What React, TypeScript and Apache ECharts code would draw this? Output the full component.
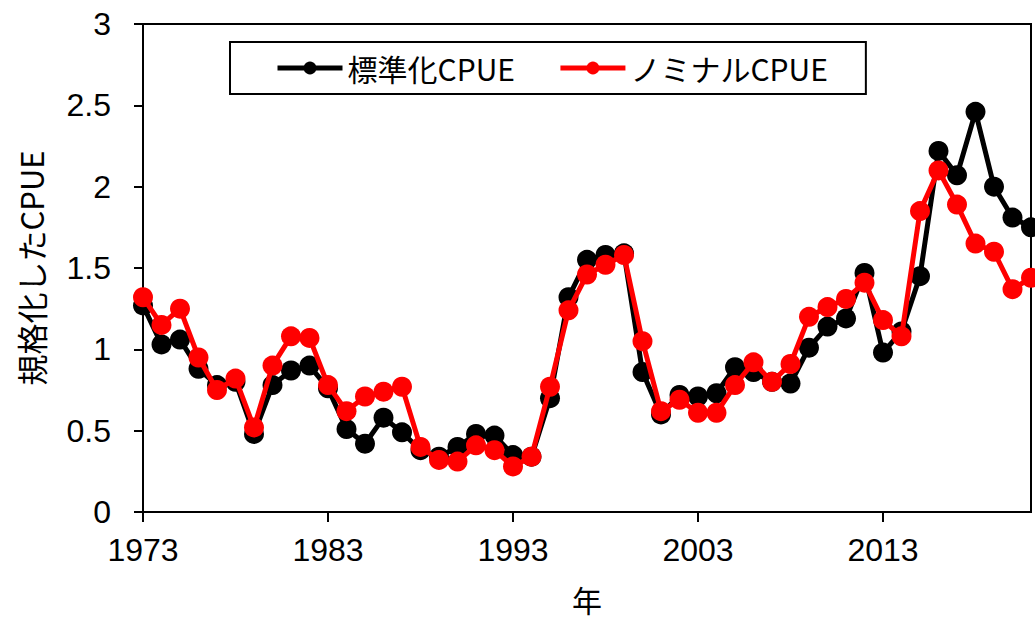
import React, { useEffect, useRef } from "react";
import * as echarts from "echarts";

const years: number[] = [
  1973, 1974, 1975, 1976, 1977, 1978, 1979, 1980, 1981, 1982,
  1983, 1984, 1985, 1986, 1987, 1988, 1989, 1990, 1991, 1992,
  1993, 1994, 1995, 1996, 1997, 1998, 1999, 2000, 2001, 2002,
  2003, 2004, 2005, 2006, 2007, 2008, 2009, 2010, 2011, 2012,
  2013, 2014, 2015, 2016, 2017, 2018, 2019, 2020, 2021,
];

const standardized: number[] = [
  1.27, 1.03, 1.06, 0.88, 0.78, 0.8, 0.48, 0.78, 0.87, 0.9,
  0.76, 0.51, 0.42, 0.58, 0.49, 0.38, 0.34, 0.4, 0.48, 0.47,
  0.35, 0.34, 0.7, 1.32, 1.55, 1.58, 1.59, 0.86, 0.6, 0.72,
  0.71, 0.73, 0.89, 0.86, 0.8, 0.79, 1.01, 1.14, 1.19, 1.47,
  0.98, 1.11, 1.45, 2.22, 2.07, 2.46, 2.0, 1.81, 1.75,
];

const nominal: number[] = [
  1.32, 1.15, 1.25, 0.95, 0.75, 0.82, 0.52, 0.9, 1.08, 1.07,
  0.78, 0.62, 0.71, 0.74, 0.77, 0.4, 0.32, 0.31, 0.41, 0.38,
  0.28, 0.34, 0.77, 1.24, 1.46, 1.52, 1.58, 1.05, 0.62, 0.69,
  0.61, 0.61, 0.78, 0.92, 0.8, 0.91, 1.2, 1.26, 1.31, 1.41,
  1.18, 1.08, 1.85, 2.1, 1.89, 1.65, 1.6, 1.37, 1.44,
];

const xTickYears: number[] = [1973, 1983, 1993, 2003, 2013];
const seriesNames: string[] = ["標準化CPUE", "ノミナルCPUE"];
const xAxisTitle = "年";
const yAxisTitle = "規格化したCPUE";

const LATIN = "'Liberation Sans', Arial, sans-serif";
const CJK = "'Noto Sans CJK JP', sans-serif";

export default function App() {
  const ref = useRef<HTMLDivElement | null>(null);

  useEffect(() => {
    document.body.style.margin = "0";
    if (!ref.current) return;
    const chart = echarts.init(ref.current, undefined, { renderer: "svg" });
    const mk = (vals: number[]) => years.map((y, i) => [y, vals[i]]);
    chart.setOption({
      animation: false,
      backgroundColor: "#ffffff",
      grid: {
        left: 143,
        right: 4,
        top: 24,
        bottom: 116,
        show: true,
        borderColor: "#000",
        borderWidth: 2,
        containLabel: false,
      },
      legend: {
        left: 230,
        top: 42,
        orient: "horizontal",
        padding: [11, 38, 11, 45],
        itemGap: 43,
        itemWidth: 65,
        itemHeight: 16,
        borderColor: "#000",
        borderWidth: 2,
        backgroundColor: "#fff",
        lineStyle: { width: 5 },
        textStyle: { fontFamily: CJK, fontSize: 30, color: "#000" },
        data: seriesNames,
      },
      xAxis: {
        type: "value",
        min: 1973,
        max: 2021,
        name: xAxisTitle,
        nameLocation: "middle",
        nameGap: 72,
        nameTextStyle: { fontFamily: CJK, fontSize: 30, color: "#000" },
        axisLine: { show: true, lineStyle: { color: "#000", width: 2 } },
        axisTick: {
          show: true,
          customValues: xTickYears,
          length: 10,
          lineStyle: { color: "#000", width: 2 },
        },
        axisLabel: {
          customValues: xTickYears,
          fontFamily: LATIN,
          fontSize: 32,
          color: "#000",
          margin: 22,
          formatter: (v: number) => String(v),
        },
        splitLine: { show: false },
      },
      yAxis: {
        type: "value",
        min: 0,
        max: 3,
        interval: 0.5,
        name: yAxisTitle,
        nameLocation: "middle",
        nameGap: 97,
        nameTextStyle: { fontFamily: CJK, fontSize: 31, color: "#000" },
        axisLine: { show: true, lineStyle: { color: "#000", width: 2 } },
        axisTick: { show: true, length: 9, lineStyle: { color: "#000", width: 2 } },
        axisLabel: {
          fontFamily: LATIN,
          fontSize: 32,
          color: "#000",
          margin: 32,
        },
        splitLine: { show: false },
      },
      series: [
        {
          name: seriesNames[0],
          type: "line",
          data: mk(standardized),
          symbol: "circle",
          symbolSize: 20,
          lineStyle: { color: "#000", width: 5 },
          itemStyle: { color: "#000" },
          z: 2,
        },
        {
          name: seriesNames[1],
          type: "line",
          data: mk(nominal),
          symbol: "circle",
          symbolSize: 20,
          lineStyle: { color: "#ff0000", width: 5 },
          itemStyle: { color: "#ff0000" },
          z: 3,
        },
      ],
    });
    return () => chart.dispose();
  }, []);

  return <div ref={ref} style={{ width: 1035, height: 628 }} />;
}
